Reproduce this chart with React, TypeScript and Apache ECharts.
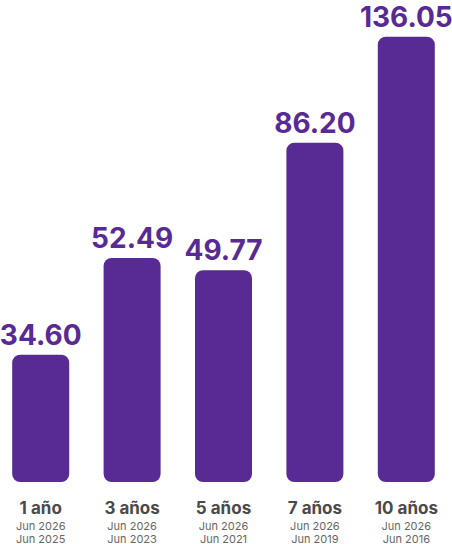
import React, { useEffect, useRef } from "react";
import * as echarts from "echarts";

const categories = ["1 año", "3 años", "5 años", "7 años", "10 años"];
const fromDates = ["Jun 2025", "Jun 2023", "Jun 2021", "Jun 2019", "Jun 2016"];
const toDates = ["Jun 2026", "Jun 2026", "Jun 2026", "Jun 2026", "Jun 2026"];
const values = [34.6, 52.49, 49.77, 86.2, 136.05];

const PURPLE = "#582A93";

export default function App() {
  const ref = useRef<HTMLDivElement>(null);
  useEffect(() => {
    if (!ref.current) return;
    const chart = echarts.init(ref.current, null, { renderer: "svg" });
    const yMin = 20;
    chart.setOption({
      animation: false,
      grid: { left: 0, right: 0, top: 14, bottom: 62, containLabel: false },
      xAxis: {
        type: "category",
        data: categories,
        axisLine: { show: false },
        axisTick: { show: false },
        axisLabel: {
          interval: 0,
          margin: 15,
          fontFamily: "Inter",
          formatter: (v: string, i: number) =>
            `{a|${v}}\n{b|${toDates[i]}}\n{b|${fromDates[i]}}`,
          rich: {
            a: { fontSize: 17, fontWeight: 700, color: "#4a4a4a", lineHeight: 22, fontFamily: "Inter" },
            b: { fontSize: 11, color: "#666666", lineHeight: 13, fontFamily: "Inter" },
          },
        },
      },
      yAxis: {
        type: "log",
        min: yMin,
        max: 150,
        show: false,
        splitLine: { show: false },
      },
      series: [
        {
          type: "custom",
          data: values.map((v, i) => [i, v]),
          encode: { x: 0, y: 1 },
          renderItem: (params: any, api: any) => {
            const i = api.value(0);
            const v = api.value(1);
            const top = api.coord([i, v]);
            const base = api.coord([i, yMin]);
            const w = 57;
            return {
              type: "group",
              children: [
                {
                  type: "rect",
                  shape: { x: top[0] - w / 2, y: top[1], width: w, height: base[1] - top[1], r: 8 },
                  style: { fill: PURPLE },
                },
                {
                  type: "text",
                  x: top[0],
                  y: top[1] - 6,
                  style: {
                    text: v.toFixed(2),
                    fill: PURPLE,
                    font: "700 28px Inter",
                    textAlign: "center",
                    textVerticalAlign: "bottom",
                  },
                },
              ],
            };
          },
        },
      ],
    });
    return () => chart.dispose();
  }, []);
  return <div ref={ref} style={{ width: 457, height: 544, position: "absolute", left: -5, top: 0 }} />;
}
